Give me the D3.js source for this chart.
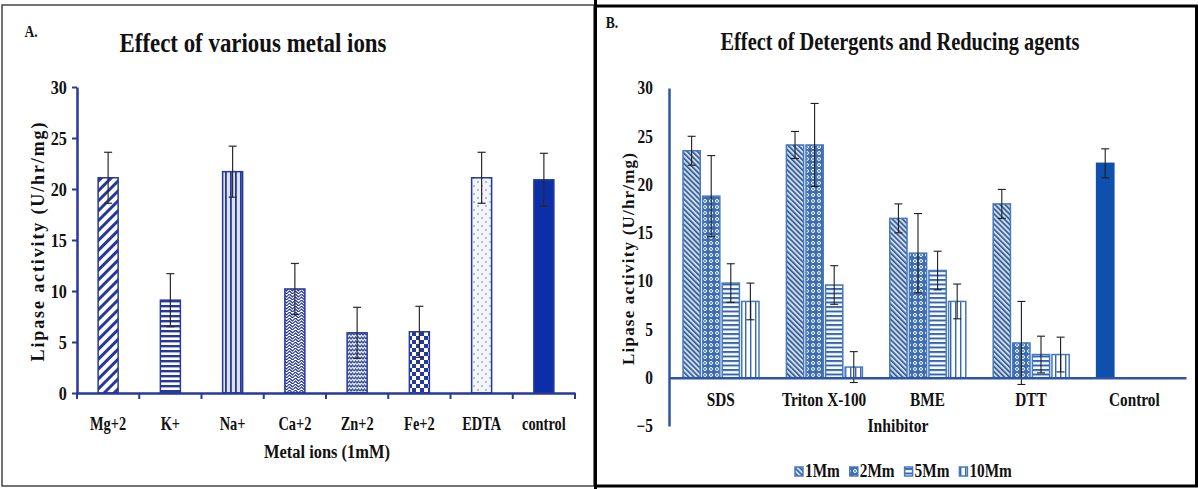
<!DOCTYPE html>
<html>
<head>
<meta charset="utf-8">
<script src="https://cdn.jsdelivr.net/npm/d3@7"></script>
<style>
body { margin: 0; background: #fff; }
svg { display: block; font-family: "Liberation Serif", "Times New Roman", serif; font-weight: bold; }
</style>
</head>
<body>
<svg id="chart" width="1198" height="489"></svg>
<script>
// panel A: metal ions
const metals = ["Mg+2", "K+", "Na+", "Ca+2", "Zn+2", "Fe+2", "EDTA", "control"];
const metalMeans = [21.1, 9.1, 21.7, 10.2, 5.9, 6.0, 21.1, 20.9];
const metalErr = [2.5, 2.6, 2.5, 2.5, 2.5, 2.5, 2.5, 2.6];
const metalTicks = [0, 5, 10, 15, 20, 25, 30];

// panel B: detergents and reducing agents
const inhibitors = ["SDS", "Triton X-100", "BME", "DTT", "Control"];
const concs = ["1Mm", "2Mm", "5Mm", "10Mm"];
const val1 = [23.5, 24.1, 16.5, 18.0, 22.2];
const val2 = [18.8, 24.1, 12.9, 3.6, null];
const val5 = [9.8, 9.6, 11.1, 2.4, null];
const val10 = [7.9, 1.1, 7.9, 2.4, null];
const err1 = [1.5, 1.4, 1.5, 1.5, 1.5];
const err2 = [4.2, 4.3, 4.1, 4.3, null];
const err5 = [2.0, 2.0, 2.0, 1.9, null];
const err10 = [1.9, 1.6, 1.8, 1.8, null];
const inhTicks = [-5, 0, 5, 10, 15, 20, 25, 30];

const svg = d3.select("#chart");
const defs = svg.append("defs");
const cA = "#26399a";
const cB = "#3467ad";

function pat(id, w, h, bg, rot) {
    const p = defs.append("pattern").attr("id", id)
        .attr("patternUnits", "userSpaceOnUse")
        .attr("width", w).attr("height", h);
    if (rot) p.attr("patternTransform", `rotate(${rot})`);
    p.append("rect").attr("width", w).attr("height", h).attr("fill", bg);
    return p;
}

// patterns for panel A
pat("a0", 7, 7, "#fff", 45).append("rect").attr("width", 3).attr("height", 7).attr("fill", cA);
pat("a1", 6, 5, "#fff").append("rect").attr("width", 6).attr("height", 2.4).attr("fill", cA);
pat("a2", 5, 5, "#dde3f2").append("rect").attr("width", 1.8).attr("height", 5).attr("fill", cA);
pat("a3", 6, 6, "#fff").append("path")
    .attr("d", "M0,1.5 L1.5,0 L3,1.5 L4.5,3 L6,1.5 M0,4.5 L1.5,3 L3,4.5 L4.5,6 L6,4.5")
    .attr("fill", "none").attr("stroke", cA).attr("stroke-width", 1.2);
pat("a4", 6, 4, "#eef1f8").append("path")
    .attr("d", "M0,3 L1.5,1 L3,3 L4.5,1 L6,3")
    .attr("fill", "none").attr("stroke", "#3a4f9f").attr("stroke-width", 1.3);
const chk = pat("a5", 8, 8, "#fff");
chk.append("rect").attr("width", 4).attr("height", 4).attr("fill", cA);
chk.append("rect").attr("x", 4).attr("y", 4).attr("width", 4).attr("height", 4).attr("fill", cA);
const dots = pat("a6", 8, 8, "#f2f5fb");
dots.append("circle").attr("cx", 2).attr("cy", 2).attr("r", 0.7).attr("fill", "#556");
dots.append("circle").attr("cx", 6).attr("cy", 6).attr("r", 0.7).attr("fill", "#556");
const fillsA = ["url(#a0)", "url(#a1)", "url(#a2)", "url(#a3)", "url(#a4)", "url(#a5)", "url(#a6)", "#0c2ea8"];

// patterns for panel B
pat("b0", 3.6, 3.6, "#cddcee", -45).append("rect").attr("width", 1.6).attr("height", 3.6).attr("fill", "#2f568f");
pat("b1", 6, 6, "#3e6eb2").append("circle").attr("cx", 3).attr("cy", 3).attr("r", 1.5)
    .attr("fill", "none").attr("stroke", "#fff").attr("stroke-width", 1);
pat("b2", 5, 4.5, "#fff").append("rect").attr("width", 5).attr("height", 2).attr("fill", cB);
pat("b3", 5, 5, "#fff").append("rect").attr("width", 1.4).attr("height", 5).attr("fill", cB);
const fillsB = ["url(#b0)", "url(#b1)", "url(#b2)", "url(#b3)"];

function label(g, x, y, txt, size, sx, anchor) {
    return g.append("text")
        .attr("transform", `translate(${x},${y}) scale(${sx},1)`)
        .attr("text-anchor", anchor || "middle")
        .attr("font-size", size)
        .attr("fill", "#111")
        .text(txt);
}

// ---------- panel A ----------
const gA = svg.append("g");
gA.append("rect").attr("x", 2).attr("y", 5).attr("width", 592).attr("height", 481)
    .attr("fill", "none").attr("stroke", "#444").attr("stroke-width", 1.5);

const xA = d3.scaleBand().domain(metals).range([77, 575]);
const yA = d3.scaleLinear().domain([0, 30]).range([393, 87]);
const barWA = 20;

gA.selectAll("rect.bar").data(metals).enter().append("rect")
    .attr("class", "bar")
    .attr("x", d => xA(d) + xA.bandwidth() / 2 - barWA / 2)
    .attr("y", (d, i) => yA(metalMeans[i]))
    .attr("width", barWA)
    .attr("height", (d, i) => yA(0) - yA(metalMeans[i]))
    .attr("fill", (d, i) => fillsA[i])
    .attr("stroke", cA).attr("stroke-width", 1.5);

const errA = gA.append("g").attr("stroke", "#2a2a2a").attr("stroke-width", 1.2);
metals.forEach((m, i) => {
    const cx = xA(m) + xA.bandwidth() / 2;
    const hi = yA(metalMeans[i] + metalErr[i]), lo = yA(metalMeans[i] - metalErr[i]);
    errA.append("line").attr("x1", cx).attr("x2", cx).attr("y1", hi).attr("y2", lo);
    errA.append("line").attr("x1", cx - 4).attr("x2", cx + 4).attr("y1", hi).attr("y2", hi);
    errA.append("line").attr("x1", cx - 4).attr("x2", cx + 4).attr("y1", lo).attr("y2", lo);
});

const axYA = gA.append("g").attr("transform", "translate(77,0)")
    .call(d3.axisLeft(yA).tickValues(metalTicks).tickSize(5).tickSizeOuter(0).tickPadding(7));
const axXA = gA.append("g").attr("transform", `translate(0,${yA(0)})`)
    .call(d3.axisBottom(xA).tickSize(0).tickPadding(24));
[axYA, axXA].forEach(ax => {
    ax.select(".domain").attr("stroke", cA).attr("stroke-width", 2.5);
    ax.selectAll(".tick line").attr("stroke", cA).attr("stroke-width", 2);
    ax.selectAll("text").attr("font-size", 18).attr("fill", "#111")
        .attr("font-family", "Liberation Serif, serif").attr("font-weight", "bold");
});
axYA.selectAll("text").attr("font-size", 19).attr("transform", "scale(0.85,1)");
axXA.selectAll("text").attr("transform", "scale(0.8,1)");
// category boundary ticks under the axis
axXA.selectAll("line.btick").data(metals.map(m => xA(m)).concat([xA.range()[1]]))
    .enter().append("line").attr("class", "btick")
    .attr("x1", d => d).attr("x2", d => d).attr("y1", 0).attr("y2", 6)
    .attr("stroke", cA).attr("stroke-width", 2);

label(gA, 31, 37, "A.", 16, 0.85);
gA.append("text").attr("x", 253).attr("y", 52).attr("text-anchor", "middle")
    .attr("font-size", 27).attr("fill", "#111")
    .attr("textLength", 267).attr("lengthAdjust", "spacingAndGlyphs")
    .text("Effect of various metal ions");
gA.append("text").attr("transform", "translate(44,242) rotate(-90)")
    .attr("text-anchor", "middle").attr("font-size", 18).attr("fill", "#111")
    .attr("textLength", 239).attr("lengthAdjust", "spacing")
    .text("Lipase activity (U/hr/mg)");
gA.append("text").attr("x", 327).attr("y", 458).attr("text-anchor", "middle")
    .attr("font-size", 18).attr("fill", "#111")
    .attr("textLength", 126).attr("lengthAdjust", "spacingAndGlyphs")
    .text("Metal ions (1mM)");

// ---------- panel B ----------
const gB = svg.append("g");
gB.append("rect").attr("x", 595.5).attr("y", 6).attr("width", 601).attr("height", 480)
    .attr("fill", "none").attr("stroke", "#000").attr("stroke-width", 3);
gB.append("line").attr("x1", 595.5).attr("x2", 595.5).attr("y1", 0).attr("y2", 489)
    .attr("stroke", "#000").attr("stroke-width", 3);

const x0 = d3.scaleBand().domain(inhibitors).range([669, 1186]);
const x1 = d3.scaleBand().domain(concs).range([14, 90]).paddingInner(0.12);
const yB = d3.scaleLinear().domain([-5, 30]).range([426, 88]);
const valsB = [val1, val2, val5, val10];
const errsB = [err1, err2, err5, err10];

const rowsB = [];
inhibitors.forEach((inh, i) => {
    concs.forEach((c, j) => {
        if (valsB[j][i] != null) rowsB.push({ inh, c, j, v: valsB[j][i], e: errsB[j][i] });
    });
});

gB.selectAll("rect.bar").data(rowsB).enter().append("rect")
    .attr("class", "bar")
    .attr("x", d => x0(d.inh) + x1(d.c))
    .attr("y", d => yB(d.v))
    .attr("width", x1.bandwidth())
    .attr("height", d => yB(0) - yB(d.v))
    .attr("fill", d => d.inh === "Control" ? "#0f4fae" : fillsB[d.j])
    .attr("stroke", d => d.inh === "Control" ? "#0f4fae" : "#4679bd")
    .attr("stroke-width", 1.5);

const errB = gB.append("g").attr("stroke", "#1e1e1e").attr("stroke-width", 1.1);
rowsB.forEach(d => {
    const cx = x0(d.inh) + x1(d.c) + x1.bandwidth() / 2;
    const hi = yB(d.v + d.e), lo = yB(d.v - d.e);
    errB.append("line").attr("x1", cx).attr("x2", cx).attr("y1", hi).attr("y2", lo);
    errB.append("line").attr("x1", cx - 4).attr("x2", cx + 4).attr("y1", hi).attr("y2", hi);
    errB.append("line").attr("x1", cx - 4).attr("x2", cx + 4).attr("y1", lo).attr("y2", lo);
});

const axYB = gB.append("g").attr("transform", "translate(669,0)")
    .call(d3.axisLeft(yB).tickValues(inhTicks).tickSize(0).tickPadding(19));
const axXB = gB.append("g").attr("transform", `translate(0,${yB(0)})`)
    .call(d3.axisBottom(x0).tickSize(0).tickSizeOuter(0).tickPadding(16));
[axYB, axXB].forEach(ax => {
    ax.select(".domain").attr("stroke", "#2d55a3").attr("stroke-width", 2.5);
    ax.selectAll("text").attr("font-size", 18).attr("fill", "#111")
        .attr("font-family", "Liberation Serif, serif").attr("font-weight", "bold")
        .attr("transform", "scale(0.85,1)");
});

label(gB, 612, 28, "B.", 16, 0.85);
gB.append("text").attr("x", 900).attr("y", 50).attr("text-anchor", "middle")
    .attr("font-size", 25).attr("fill", "#111")
    .attr("textLength", 359).attr("lengthAdjust", "spacingAndGlyphs")
    .text("Effect of Detergents and Reducing agents");
gB.append("text").attr("transform", "translate(634,259) rotate(-90)")
    .attr("text-anchor", "middle").attr("font-size", 17).attr("fill", "#111")
    .attr("textLength", 212).attr("lengthAdjust", "spacing")
    .text("Lipase activity (U/hr/mg)");
gB.append("text").attr("x", 898).attr("y", 432).attr("text-anchor", "middle")
    .attr("font-size", 18).attr("fill", "#111")
    .attr("textLength", 61).attr("lengthAdjust", "spacingAndGlyphs")
    .text("Inhibitor");

// legend
let lx = 795;
concs.forEach((c, j) => {
    gB.append("rect").attr("x", lx).attr("y", 467).attr("width", 8).attr("height", 9)
        .attr("fill", fillsB[j]).attr("stroke", "#4679bd").attr("stroke-width", 1.5);
    const t = label(gB, lx + 10, 477, c, 18, 0.85, "start");
    lx += 10 + t.node().getComputedTextLength() * 0.85 + 10;
});
</script>
</body>
</html>
